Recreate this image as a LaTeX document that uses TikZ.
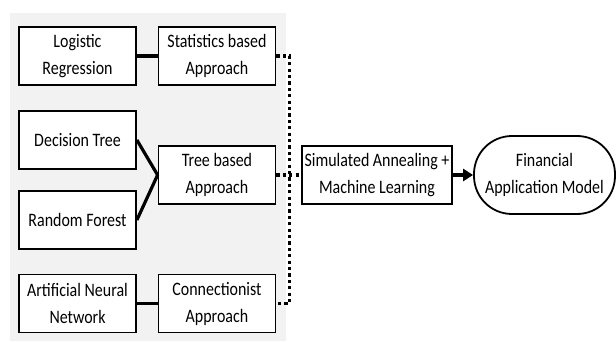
\documentclass[tikz,border=0pt]{standalone}
\usepackage{fontspec}
\setmainfont{Carlito}[FakeStretch=0.84]
\usetikzlibrary{arrows.meta}
\begin{document}
\begin{tikzpicture}[x=0.5pt, y=-0.5pt,
        box/.style={draw, line width=0.9pt, fill=white, minimum width=58.5pt, minimum height=29pt, align=center, inner sep=1pt, font=\fontsize{9.5}{13.5}\selectfont},
        link/.style={line width=1.6pt},
        dotline/.style={line width=1.6pt, dash pattern=on 1.6pt off 1.6pt}]
        \useasboundingbox (0,0) rectangle (616,342);
        % Grey panel behind the methods
        \fill [black!5] (10,13) rectangle (286,341);

        % Methods
        \node [box] (lr) at (77.5,56) {Logistic\\Regression};
        \node [box] (dt) at (77.5,140) {Decision Tree};
        \node [box] (rf) at (77.5,220) {Random Forest};
        \node [box] (ann) at (77.5,303.5) {Artificial Neural\\Network};

        % Approaches
        \node [box] (stat) at (217,56) {Statistics based\\Approach};
        \node [box] (tree) at (217,175) {Tree based\\Approach};
        \node [box] (conn) at (217,303.5) {Connectionist\\Approach};

        % Combined model and application
        \node [box, minimum width=75pt] (sa) at (377,175) {Simulated Annealing +\\Machine Learning};
        \node [box, minimum width=70.5pt, minimum height=39pt, rounded corners=19pt] (fa) at (544.5,175) {Financial\\Application Model};

        \draw [link] (lr) -- (stat);
        \draw [link] (dt.east) -- (tree.west);
        \draw [link] (rf.east) -- (tree.west);
        \draw [link] (ann) -- (conn);

        \draw [dotline] (stat.east) -- ++(13,0) |- (conn.east);
        \draw [dotline] (tree) -- (sa);

        \draw [-{Triangle[length=5pt, width=6pt]}, line width=1.6pt] (sa) -- (fa);
    \end{tikzpicture}
\end{document}
